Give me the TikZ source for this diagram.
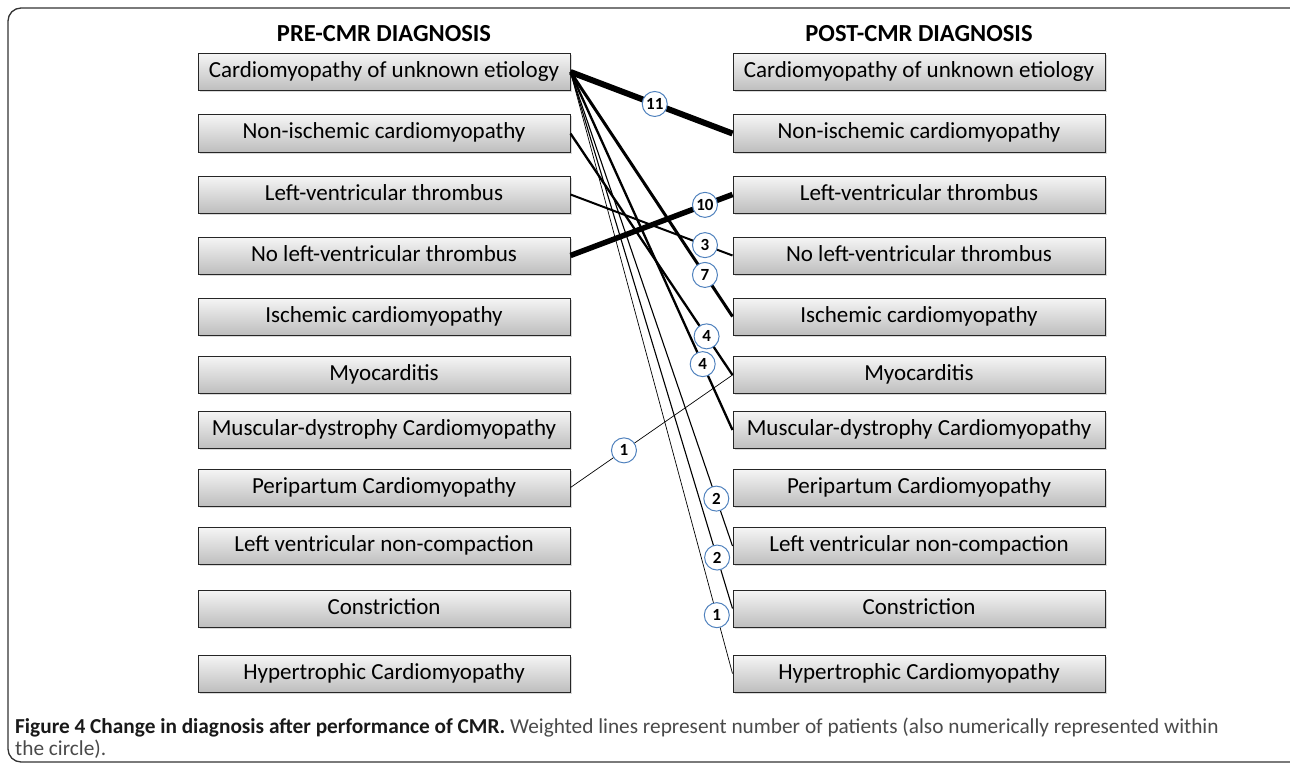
\documentclass[tikz,border=0pt]{standalone}
\usepackage{fontspec}
\setmainfont{Carlito}
\usetikzlibrary{shadows}
\definecolor{framecol}{HTML}{333333}
\definecolor{ringcol}{HTML}{4F81BD}
\definecolor{boxtop}{HTML}{F5F5F5}
\definecolor{boxbot}{HTML}{BEBEBE}
\definecolor{captxt}{HTML}{4A4A4A}
\begin{document}
\begin{tikzpicture}[x=1pt,y=-1pt,
  diag/.style={draw=black!85, line width=1pt, top color=boxtop, bottom color=boxbot,
    minimum width=372pt, minimum height=37pt, inner sep=0pt,
    text height=16pt, text depth=5pt,
    font=\fontsize{23}{26}\selectfont,
    drop shadow={shadow xshift=1.5pt, shadow yshift=-1.5pt, opacity=0.3}},
  head/.style={font=\fontsize{24.5}{28}\selectfont\bfseries},
  num/.style={circle, draw=ringcol, fill=white, text=black, line width=1pt,
    minimum size=25pt, inner sep=0pt, font=\fontsize{17}{17}\selectfont\bfseries},
  link/.style={draw=black, line width=#1},
  capline/.style={anchor=base west, inner sep=0pt, text=captxt, font=\fontsize{21.3}{24}\selectfont},
]
\useasboundingbox (0,0) rectangle (1290,765);
\begin{scope}
  \clip (0,0) rectangle (1290,765);
  \draw[framecol, line width=1.3pt, rounded corners=13pt] (8,8) rectangle (1330,762);
\end{scope}

\node[head] (pre) at (384,34) {PRE-CMR DIAGNOSIS};
\node[head] (post) at (919,34) {POST-CMR DIAGNOSIS};

\node[diag] (L1) at (384,72) {Cardiomyopathy of unknown etiology};
\node[diag] (L2) at (384,133.5) {Non-ischemic cardiomyopathy};
\node[diag] (L3) at (384,194.5) {Left-ventricular thrombus};
\node[diag] (L4) at (384,255.5) {No left-ventricular thrombus};
\node[diag] (L5) at (384,316.5) {Ischemic cardiomyopathy};
\node[diag] (L6) at (384,375) {Myocarditis};
\node[diag] (L7) at (384,430) {Muscular-dystrophy Cardiomyopathy};
\node[diag] (L8) at (384,487.5) {Peripartum Cardiomyopathy};
\node[diag] (L9) at (384,546) {Left ventricular non-compaction};
\node[diag] (L10) at (384,608.5) {Constriction};
\node[diag] (L11) at (384,673.5) {Hypertrophic Cardiomyopathy};

\node[diag] (R1) at (919,72) {Cardiomyopathy of unknown etiology};
\node[diag] (R2) at (919,133.5) {Non-ischemic cardiomyopathy};
\node[diag] (R3) at (919,194.5) {Left-ventricular thrombus};
\node[diag] (R4) at (919,255.5) {No left-ventricular thrombus};
\node[diag] (R5) at (919,316.5) {Ischemic cardiomyopathy};
\node[diag] (R6) at (919,375) {Myocarditis};
\node[diag] (R7) at (919,430) {Muscular-dystrophy Cardiomyopathy};
\node[diag] (R8) at (919,487.5) {Peripartum Cardiomyopathy};
\node[diag] (R9) at (919,546) {Left ventricular non-compaction};
\node[diag] (R10) at (919,608.5) {Constriction};
\node[diag] (R11) at (919,673.5) {Hypertrophic Cardiomyopathy};

\draw[link=6pt] (L1.east) -- coordinate[pos=0.52] (p11) (R2.west);
\draw[link=5.5pt] (L4.east) -- coordinate[pos=0.83] (p10) (R3.west);
\draw[link=2pt] (L3.east) -- coordinate[pos=0.83] (p3) (R4.west);
\draw[link=3pt] (L1.east) -- coordinate[pos=0.83] (p7) (R5.west);
\draw[link=2.3pt] (L2.east) -- coordinate[pos=0.84] (p4a) (R6.west);
\draw[link=2.3pt] (L1.east) -- coordinate[pos=0.816] (p4b) (R7.west);
\draw[link=0.7pt] (L8.east) -- coordinate[pos=0.33] (p1a) (R6.west);
\draw[link=1.1pt] (L1.east) -- coordinate[pos=0.9] (p2a) (R9.west);
\draw[link=1.1pt] (L1.east) -- coordinate[pos=0.905] (p2b) (R10.west);
\draw[link=0.7pt] (L1.east) -- coordinate[pos=0.903] (p1b) (R11.west);

\node[num] (n11) at (p11) {11};
\node[num] (n10) at (p10) {10};
\node[num] (n3) at (p3) {3};
\node[num] (n7) at (p7) {7};
\node[num] (n4a) at (p4a) {4};
\node[num] (n4b) at (p4b) {4};
\node[num] (n1a) at (p1a) {1};
\node[num] (n2a) at (p2a) {2};
\node[num] (n2b) at (p2b) {2};
\node[num] (n1b) at (p1b) {1};

\node[capline] (cap1) at (15,733) {\textcolor{black!90}{\bfseries Figure 4 Change in diagnosis after performance of CMR.} Weighted lines represent number of patients (also numerically represented within};
\node[capline] (cap2) at (15,755) {the circle).};
\end{tikzpicture}
\end{document}
